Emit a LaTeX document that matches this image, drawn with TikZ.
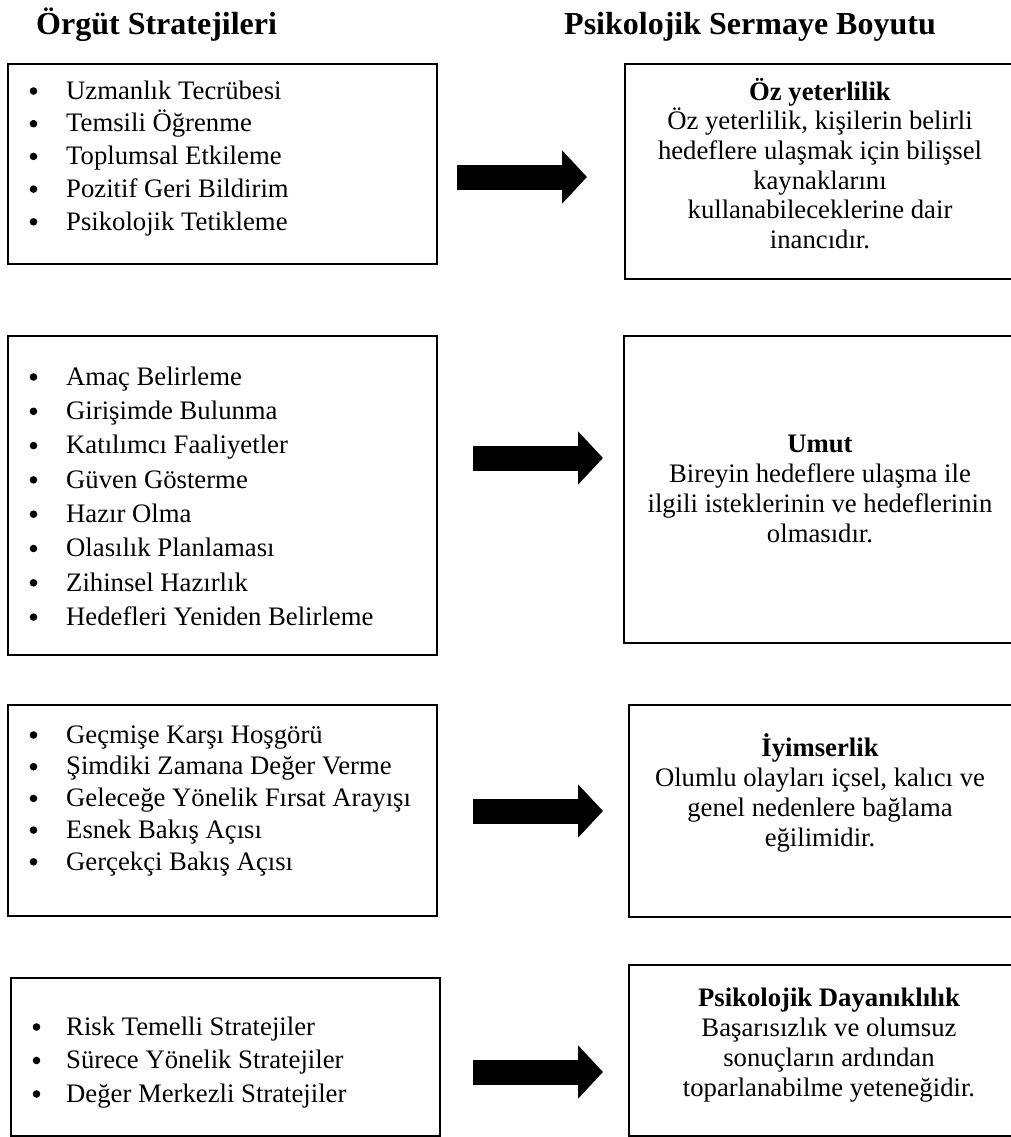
\documentclass[tikz,border=0pt]{standalone}
\usepackage{fontspec}
\setmainfont{Liberation Serif}
\usetikzlibrary{arrows.meta}
\newcommand{\bl}{\hspace*{39pt}}
\newcommand{\st}{\rule{0pt}{25pt}}
\begin{document}
\begin{tikzpicture}[x=1pt,y=-1pt,
  box/.style={draw=black, line width=2pt, inner sep=0pt, anchor=north west},
  lst/.style={anchor=north west, inner sep=0pt, align=left},
  dsc/.style={anchor=north, inner sep=0pt, align=center},
  ttl/.style={inner sep=0pt, font=\bfseries\fontsize{32}{38}\selectfont},
  blockarrow/.style={line width=25pt, -{Triangle[length=25pt,width=52pt]}},
  dot/.style={fill=black},
]
\useasboundingbox (0,0) rectangle (1011,1137);
\clip (0,0) rectangle (1011,1137);
\fill[white] (0,0) rectangle (1011,1137);

% titles
\node[ttl, anchor=base west] (tl) at (36,35) {Örgüt Stratejileri};
\node[ttl, anchor=base] (tr) at (750,35) {Psikolojik Sermaye Boyutu};

% left boxes
\node[box, minimum width=429pt, minimum height=200pt] (L1) at (7,63) {};
\node[box, minimum width=429pt, minimum height=319pt] (L2) at (7,335) {};
\node[box, minimum width=429pt, minimum height=211pt] (L3) at (7,704) {};
\node[box, minimum width=429pt, minimum height=158pt] (L4) at (10,977) {};

% right boxes
\node[box, minimum width=392pt, minimum height=215pt] (R1) at (624,63) {};
\node[box, minimum width=393pt, minimum height=307pt] (R2) at (623,335) {};
\node[box, minimum width=388pt, minimum height=212pt] (R3) at (628,704) {};
\node[box, minimum width=402pt, minimum height=171pt] (R4) at (628,964) {};

% left lists
\node[lst, font=\fontsize{26.7}{32.7}\selectfont] (T1) at (27,74) {\st\bl Uzmanlık Tecrübesi\\
\bl Temsili Öğrenme\\
\bl Toplumsal Etkileme\\
\bl Pozitif Geri Bildirim\\
\bl Psikolojik Tetikleme};
\foreach \k in {0,...,4} \fill[dot] (33.5,{99+\k*32.7-8}) circle (3.8);

\node[lst, font=\fontsize{26.7}{34.3}\selectfont] (T2) at (27,360) {\st\bl Amaç Belirleme\\
\bl Girişimde Bulunma\\
\bl Katılımcı Faaliyetler\\
\bl Güven Gösterme\\
\bl Hazır Olma\\
\bl Olasılık Planlaması\\
\bl Zihinsel Hazırlık\\
\bl Hedefleri Yeniden Belirleme};
\foreach \k in {0,...,7} \fill[dot] (33.5,{385+\k*34.3-8}) circle (3.8);

\node[lst, font=\fontsize{26.7}{31.7}\selectfont] (T3) at (27,718) {\st\bl Geçmişe Karşı Hoşgörü\\
\bl Şimdiki Zamana Değer Verme\\
\bl Geleceğe Yönelik Fırsat Arayışı\\
\bl Esnek Bakış Açısı\\
\bl Gerçekçi Bakış Açısı};
\foreach \k in {0,...,4} \fill[dot] (33.5,{743+\k*31.7-8}) circle (3.8);

\node[lst, font=\fontsize{26.7}{33.5}\selectfont] (T4) at (27,1010) {\st\bl Risk Temelli Stratejiler\\
\bl Sürece Yönelik Stratejiler\\
\bl Değer Merkezli Stratejiler};
\foreach \k in {0,...,2} \fill[dot] (36.5,{1035+\k*33.5-8}) circle (3.8);

% right descriptions
\node[dsc, font=\fontsize{26.7}{29.6}\selectfont] (D1) at (820,75) {\st\textbf{Öz yeterlilik}\\
Öz yeterlilik, kişilerin belirli\\
hedeflere ulaşmak için bilişsel\\
kaynaklarını\\
kullanabileceklerine dair\\
inancıdır.};

\node[dsc, font=\fontsize{26.7}{30}\selectfont] (D2) at (820,427) {\st\textbf{Umut}\\
Bireyin hedeflere ulaşma ile\\
ilgili isteklerinin ve hedeflerinin\\
olmasıdır.};

\node[dsc, font=\fontsize{26.7}{30}\selectfont] (D3) at (820,731) {\st\textbf{İyimserlik}\\
Olumlu olayları içsel, kalıcı ve\\
genel nedenlere bağlama\\
eğilimidir.};

\node[dsc, font=\fontsize{26.7}{30}\selectfont] (D4) at (829,981) {\st\textbf{Psikolojik Dayanıklılık}\\
Başarısızlık ve olumsuz\\
sonuçların ardından\\
toparlanabilme yeteneğidir.};

% block arrows
\coordinate (a1s) at (457,177); \coordinate (a1e) at (587,177);
\coordinate (a2s) at (473,458); \coordinate (a2e) at (603,458);
\coordinate (a3s) at (473,811); \coordinate (a3e) at (603,811);
\coordinate (a4s) at (473,1072); \coordinate (a4e) at (603,1072);
\draw[blockarrow] (a1s) -- (a1e);
\draw[blockarrow] (a2s) -- (a2e);
\draw[blockarrow] (a3s) -- (a3e);
\draw[blockarrow] (a4s) -- (a4e);
\end{tikzpicture}
\end{document}
